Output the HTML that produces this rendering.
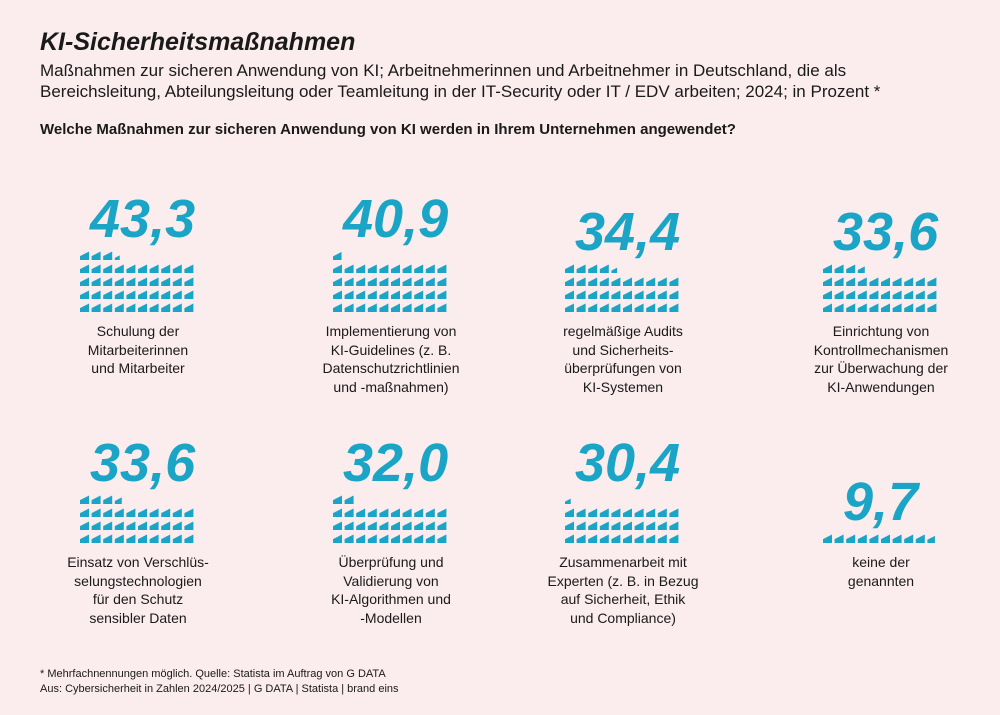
<!DOCTYPE html>
<html><head><meta charset="utf-8"><style>
body{margin:0;width:1000px;height:715px;background:#fbeced;font-family:"Liberation Sans",sans-serif;color:#1a1a1a;position:relative;overflow:hidden}
.t{position:absolute;left:40px;top:28px;font-size:25px;font-weight:bold;font-style:italic}
.s{position:absolute;left:40px;top:60px;font-size:17px;line-height:21px;width:925px}
.q{position:absolute;left:40px;top:121px;font-size:15px;font-weight:bold}
.f{position:absolute;left:40px;top:667px;font-size:11px;line-height:15px}
.n{position:absolute;font-size:54px;font-weight:bold;font-style:italic;color:#1aa5c6;line-height:1}
.l{position:absolute;width:200px;text-align:center;font-size:14px;line-height:18.5px}
svg{position:absolute;left:0;top:0}
</style></head><body>
<div class="t">KI-Sicherheitsmaßnahmen</div>
<div class="s">Maßnahmen zur sicheren Anwendung von KI; Arbeitnehmerinnen und Arbeitnehmer in Deutschland, die als Bereichsleitung, Abteilungsleitung oder Teamleitung in der IT-Security oder IT / EDV arbeiten; 2024; in Prozent *</div>
<div class="q">Welche Maßnahmen zur sicheren Anwendung von KI werden in Ihrem Unternehmen angewendet?</div>
<svg id="w" width="1000" height="715"></svg>
<div id="c"></div>
<div class="f">* Mehrfachnennungen möglich. Quelle: Statista im Auftrag von G DATA<br>Aus: Cybersicherheit in Zahlen 2024/2025 | G DATA | Statista | brand eins</div>
<script>
var d=[[43.3,80,312,322,"Schulung der<br>Mitarbeiterinnen<br>und Mitarbeiter"],
[40.9,333,312,322,"Implementierung von<br>KI-Guidelines (z. B.<br>Datenschutzrichtlinien<br>und -maßnahmen)"],
[34.4,565,312,322,"regelmäßige Audits<br>und Sicherheits-<br>überprüfungen von<br>KI-Systemen"],
[33.6,823,312,322,"Einrichtung von<br>Kontrollmechanismen<br>zur Überwachung der<br>KI-Anwendungen"],
[33.6,80,543,553,"Einsatz von Verschlüs-<br>selungstechnologien<br>für den Schutz<br>sensibler Daten"],
[32.0,333,543,553,"Überprüfung und<br>Validierung von<br>KI-Algorithmen und<br>-Modellen"],
[30.4,565,543,553,"Zusammenarbeit mit<br>Experten (z. B. in Bezug<br>auf Sicherheit, Ethik<br>und Compliance)"],
[9.7,823,543,553,"keine der<br>genannten"]];
var s="",h="";
d.forEach(function(e){var v=e[0],x0=e[1],yb=e[2],full=Math.floor(v+1e-9),fr=v-full;
var rows=Math.ceil(v/10-1e-9);
for(var i=0;i<Math.ceil(v-1e-9);i++){var r=Math.floor(i/10),c=i%10;
var x=x0+c*11.6,y=yb-r*13;var k=(i<full)?1:Math.sqrt(fr);var w=9*k,hh=8.5*k;
s+='<polygon fill="#1aa5c6" points="'+x+','+y+' '+(x+w)+','+y+' '+(x+w)+','+(y-hh)+' '+x+','+(y-hh*0.45)+'"/>';}
var top=yb-8-(rows-1)*13;
var t=v.toFixed(1).replace('.',',');
h+='<div class="n" style="left:'+(x0+(v<10?20:10))+'px;top:'+(top-60)+'px">'+t+'</div>';
h+='<div class="l" style="left:'+(x0+58-100)+'px;top:'+e[3]+'px">'+e[4]+'</div>';});
document.getElementById('w').innerHTML=s;document.getElementById('c').innerHTML=h;
</script>
</body></html>
